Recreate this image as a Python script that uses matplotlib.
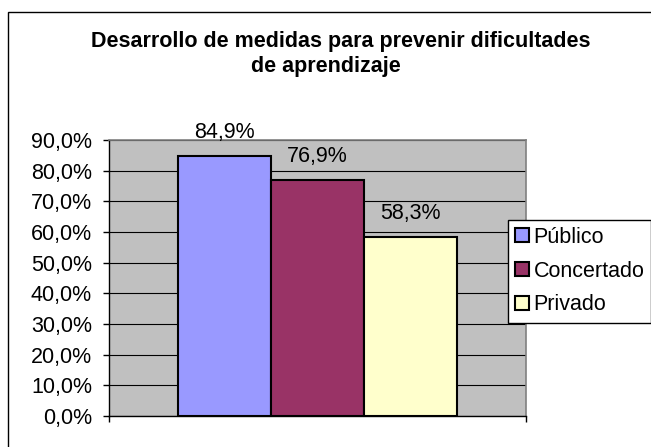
import numpy as np
import matplotlib.pyplot as plt
from matplotlib.patches import Rectangle

plt.rcParams['font.family'] = ['Liberation Sans', 'DejaVu Sans']

# datos del grafico
titulo = ['Desarrollo de medidas para prevenir dificultades', 'de aprendizaje']
series = ['Público', 'Concertado', 'Privado']
valores = [84.9, 76.9, 58.3]
colores = ['#9999FF', '#993366', '#FFFFCC']
marcas_y = np.arange(0, 91, 10)

W, H = 651, 447
fs = 15.5
fig = plt.figure(figsize=(W / 100, H / 100), dpi=100)

# area del grafico (gris, estilo Excel)
ax = fig.add_axes([109 / W, 1 - 416 / H, (526 - 109) / W, (416 - 140) / H])
ax.set_facecolor('#C0C0C0')

ancho = 0.223
for i, (s, v, c) in enumerate(zip(series, valores, colores)):
    x = (i - 1) * ancho
    ax.bar(x, v, width=ancho, color=c, edgecolor='black', linewidth=1.5,
           label=s, zorder=3)
    ax.annotate(f"{v:.1f}%".replace('.', ','), (x, v), xytext=(0, 13),
                textcoords='offset points', ha='center', va='baseline',
                fontsize=fs, zorder=4)

ax.set_xlim(-0.5, 0.5)
ax.set_ylim(0, 90)
ax.set_yticks(marcas_y)
ax.set_yticklabels([f"{t:.1f}%".replace('.', ',') for t in marcas_y], fontsize=fs)
ax.set_xticks([-0.5, 0.5])
ax.set_xticklabels(['', ''])
ax.tick_params(direction='out', length=4.3, width=1, pad=8, color='black')

ax.yaxis.grid(True, color='black', linewidth=0.8)
ax.set_axisbelow(True)
for lado in ['left', 'bottom']:
    ax.spines[lado].set_color('black')
    ax.spines[lado].set_linewidth(1)
for lado in ['top', 'right']:
    ax.spines[lado].set_color('#808080')
    ax.spines[lado].set_linewidth(1.2)

# titulo en dos lineas
fig.text(340.5 / W, 1 - 47 / H, titulo[0], ha='center', va='baseline',
         fontsize=fs, fontweight='bold')
fig.text(325.5 / W, 1 - 72 / H, titulo[1], ha='center', va='baseline',
         fontsize=fs, fontweight='bold')

# leyenda
leg = ax.legend(loc='upper left', bbox_to_anchor=(508 / W, 1 - 220 / H, 143 / W, 0.001),
                bbox_transform=fig.transFigure, mode='expand', borderaxespad=0,
                fontsize=fs, frameon=True, fancybox=False, framealpha=1,
                edgecolor='black', handlelength=0.65, handleheight=0.65,
                handletextpad=0.2, labelspacing=0.6, borderpad=0.33)
leg.get_frame().set_linewidth(1)

# borde exterior del grafico
fig.patches.append(Rectangle((8 / W, -0.1), 1.2, 1 - 12 / H + 0.1,
                             transform=fig.transFigure, fill=False,
                             edgecolor='black', linewidth=1))

fig.savefig('out.png', dpi=100)
